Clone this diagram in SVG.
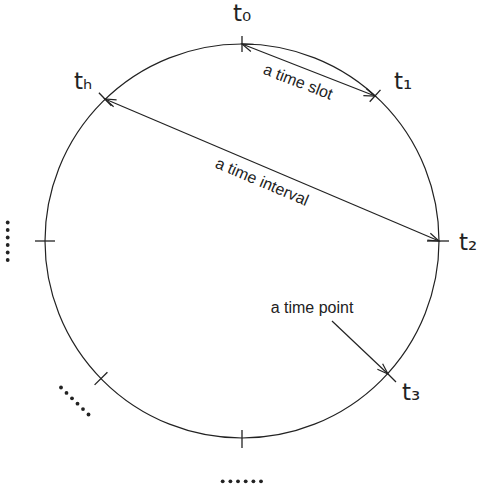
<svg xmlns="http://www.w3.org/2000/svg" width="480" height="492" viewBox="0 0 480 492">
<style>
.ln{stroke:#222;stroke-width:1.2;fill:none}
.tk{stroke:#222;stroke-width:1.3;fill:none}
.lbl{font-family:"DejaVu Sans","Liberation Sans",sans-serif;font-size:23px;fill:#222}
.hand{font-family:"Liberation Sans","DejaVu Sans",sans-serif;font-size:16px;fill:#222}
.dot{fill:#222}
</style>
<defs>
<marker id="ah" markerUnits="userSpaceOnUse" markerWidth="14" markerHeight="10" refX="12" refY="5" orient="auto-start-reverse">
<path d="M1,1.2 L12,5 L1,8.8" fill="none" stroke="#222" stroke-width="1.2"/>
</marker>
</defs>
<rect width="480" height="492" fill="#fff"/>
<g id="clock">
<circle cx="242" cy="241" r="197" class="ln"/>
</g>
<g id="t0">
<line x1="242" y1="36" x2="242" y2="52" class="tk"/>
<text x="242" y="21" class="lbl" text-anchor="middle">t₀</text>
</g>
<g id="t1">
<line x1="369.7" y1="101.7" x2="380.5" y2="89.9" class="tk"/>
<text x="394" y="89" class="lbl">t₁</text>
</g>
<g id="th">
<line x1="98.9" y1="92.8" x2="111.4" y2="105.8" class="tk"/>
<text x="74" y="89" class="lbl">tₕ</text>
</g>
<g id="t2">
<line x1="427" y1="241" x2="449" y2="241" class="tk"/>
<text x="459" y="250" class="lbl">t₂</text>
</g>
<g id="t3">
<line x1="388" y1="374" x2="396" y2="382" class="tk"/>
<text x="402" y="400" class="lbl">t₃</text>
</g>
<g id="tick-left">
<line x1="35" y1="241" x2="55" y2="241" class="tk"/>
</g>
<g id="tick-lowerleft">
<line x1="94.6" y1="384.9" x2="107.4" y2="372.3" class="tk"/>
</g>
<g id="tick-bottom">
<line x1="242" y1="430" x2="242" y2="448" class="tk"/>
</g>
<g id="connectors">
<line x1="242" y1="44" x2="375" y2="96" class="ln" marker-start="url(#ah)" marker-end="url(#ah)"/>
<line x1="105" y1="99" x2="439" y2="241" class="ln" marker-start="url(#ah)" marker-end="url(#ah)"/>
<line x1="332" y1="321" x2="388" y2="374" class="ln" marker-end="url(#ah)"/>
</g>
<g id="labels">
<text x="298" y="87" class="hand" text-anchor="middle" transform="rotate(21 298 82)">a time slot</text>
<text x="262" y="187" class="hand" text-anchor="middle" transform="rotate(23 262 182)">a time interval</text>
<text x="312" y="313" class="hand" text-anchor="middle">a time point</text>
</g>
<g id="dots-left">
<circle cx="7.7" cy="222.5" r="1.9" class="dot"/>
<circle cx="7.7" cy="230" r="1.9" class="dot"/>
<circle cx="7.7" cy="237.5" r="1.9" class="dot"/>
<circle cx="7.7" cy="245" r="1.9" class="dot"/>
<circle cx="7.7" cy="252.5" r="1.9" class="dot"/>
<circle cx="7.7" cy="260" r="1.9" class="dot"/>
</g>
<g id="dots-lowerleft">
<circle cx="61" cy="387.5" r="1.9" class="dot"/>
<circle cx="66.5" cy="392.9" r="1.9" class="dot"/>
<circle cx="72" cy="398.3" r="1.9" class="dot"/>
<circle cx="77.5" cy="403.7" r="1.9" class="dot"/>
<circle cx="83" cy="409.1" r="1.9" class="dot"/>
<circle cx="88.5" cy="414.5" r="1.9" class="dot"/>
</g>
<g id="dots-bottom">
<circle cx="222.7" cy="481.3" r="1.9" class="dot"/>
<circle cx="230.4" cy="481.3" r="1.9" class="dot"/>
<circle cx="238" cy="481.3" r="1.9" class="dot"/>
<circle cx="245.7" cy="481.3" r="1.9" class="dot"/>
<circle cx="253.4" cy="481.3" r="1.9" class="dot"/>
<circle cx="261" cy="481.3" r="1.9" class="dot"/>
</g>
</svg>
